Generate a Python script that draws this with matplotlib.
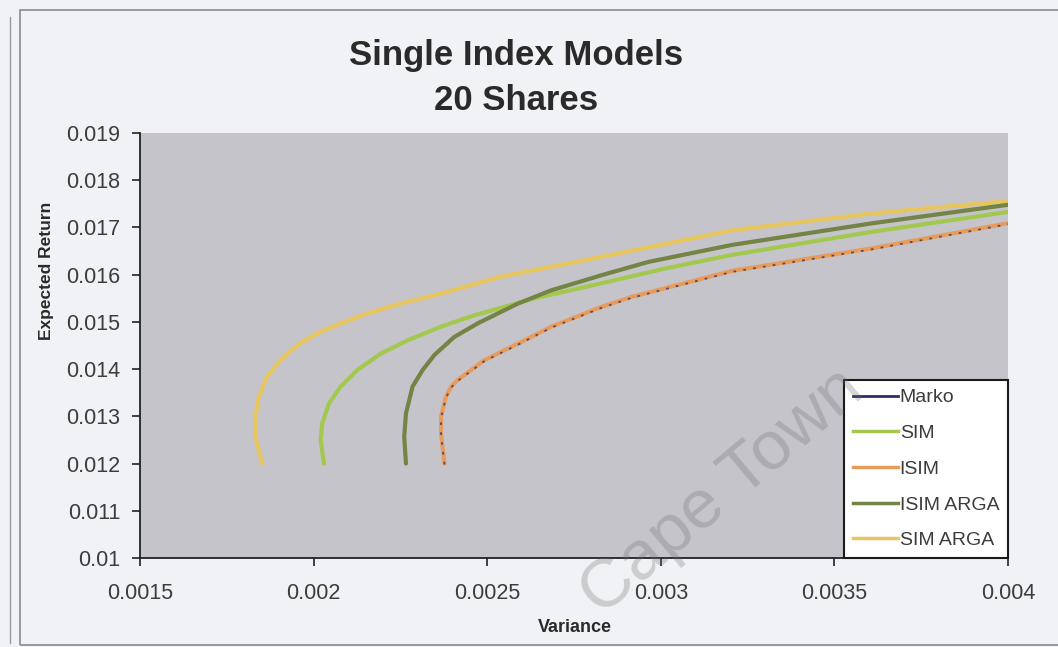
import matplotlib
matplotlib.use("Agg")
import matplotlib.pyplot as plt
from matplotlib.lines import Line2D
from matplotlib.patches import Rectangle

# efficient frontiers: (variance, expected return)
marko_var = [0.002377, 0.002367, 0.002367, 0.002381, 0.002396, 0.002415, 0.002492,
             0.002589, 0.002685, 0.002830, 0.002916, 0.003205, 0.003610, 0.004000]
marko_ret = [0.01198, 0.01262, 0.01297, 0.01339, 0.01361, 0.01375, 0.01417,
             0.01452, 0.01488, 0.01530, 0.01551, 0.01606, 0.01654, 0.01707]

sim_var = [0.002030, 0.002020, 0.002025, 0.002044, 0.002078, 0.002126, 0.002194, 0.002271,
           0.002367, 0.002463, 0.002637, 0.002830, 0.003012, 0.003205, 0.003610, 0.004000]
sim_ret = [0.01200, 0.01250, 0.01285, 0.01327, 0.01363, 0.01398, 0.01433, 0.01461,
           0.01490, 0.01514, 0.01550, 0.01582, 0.01613, 0.01642, 0.01691, 0.01733]

isim_var = [0.002377, 0.002367, 0.002367, 0.002381, 0.002396, 0.002415, 0.002492,
            0.002589, 0.002685, 0.002830, 0.002916, 0.003205, 0.003610, 0.004000]
isim_ret = [0.01200, 0.01264, 0.01299, 0.01341, 0.01363, 0.01377, 0.01419,
            0.01454, 0.01490, 0.01532, 0.01553, 0.01608, 0.01656, 0.01709]

isim_arga_var = [0.002266, 0.002261, 0.002266, 0.002285, 0.002314, 0.002348, 0.002405, 0.002473,
                 0.002589, 0.002685, 0.002830, 0.002964, 0.003205, 0.003610, 0.004000]
isim_arga_ret = [0.01200, 0.01257, 0.01306, 0.01363, 0.01398, 0.01430, 0.01468, 0.01497,
                 0.01539, 0.01567, 0.01599, 0.01627, 0.01663, 0.01709, 0.01748]

sim_arga_var = [0.001852, 0.001832, 0.001832, 0.001842, 0.001866, 0.001905, 0.001953, 0.002011,
                0.002078, 0.002155, 0.002251, 0.002367, 0.002540, 0.002830, 0.003205, 0.003610,
                0.004000]
sim_arga_ret = [0.01200, 0.01257, 0.01299, 0.01341, 0.01384, 0.01419, 0.01451, 0.01476,
                0.01497, 0.01518, 0.01539, 0.01560, 0.01596, 0.01638, 0.01694, 0.01730,
                0.01756]

series_names = ["Marko", "SIM", "ISIM", "ISIM ARGA", "SIM ARGA"]
x_ticks = [0.0015, 0.002, 0.0025, 0.003, 0.0035, 0.004]
x_labels = ["0.0015", "0.002", "0.0025", "0.003", "0.0035", "0.004"]
y_ticks = [0.01, 0.011, 0.012, 0.013, 0.014, 0.015, 0.016, 0.017, 0.018, 0.019]
y_labels = ["0.01", "0.011", "0.012", "0.013", "0.014", "0.015", "0.016", "0.017", "0.018", "0.019"]

c_marko = "#27306b"
c_sim = "#a3c84e"
c_isim = "#e89c5c"
c_isim_arga = "#748444"
c_sim_arga = "#e8c65e"

plt.rcParams["font.family"] = ["Liberation Sans", "DejaVu Sans"]

fig = plt.figure(figsize=(10.58, 6.47), dpi=100, facecolor="#f1f2f5")
ax = fig.add_axes([0.1323, 0.1376, 0.8205, 0.6568])
ax.set_facecolor("#c6c4cb")

# chart border, like the Excel chart frame
fig.patches.append(Rectangle((20 / 1058, 2 / 647), 1.1, 635 / 647, transform=fig.transFigure,
                             fill=False, edgecolor="#8a8a8a", lw=1.2, zorder=0))
fig.add_artist(Line2D([10 / 1058, 10 / 1058], [4 / 647, 630 / 647], transform=fig.transFigure,
                      color="#9a9a9a", lw=1.0))

line_kw = dict(lw=3, solid_capstyle="round", solid_joinstyle="round")
ax.plot(sim_var, sim_ret, color=c_sim, zorder=3, **line_kw)
ax.plot(isim_var, isim_ret, color=c_isim, zorder=3, **line_kw)
ax.plot(isim_arga_var, isim_arga_ret, color=c_isim_arga, zorder=4, **line_kw)
ax.plot(sim_arga_var, sim_arga_ret, color=c_sim_arga, zorder=3, **line_kw)
# Markowitz frontier only shows through as dark specks on the ISIM line
ax.plot(marko_var, marko_ret, color=c_marko, lw=1.3, ls=(0, (1.5, 4)), alpha=0.75, zorder=5)

ax.set_xlim(0.0015, 0.004)
ax.set_ylim(0.01, 0.019)
ax.set_xticks(x_ticks)
ax.set_xticklabels(x_labels)
ax.set_yticks(y_ticks)
ax.set_yticklabels(y_labels)
ax.tick_params(axis="both", direction="out", length=6, width=1.2, color="#222222",
               labelsize=15.5, labelcolor="#3c3c3c")
ax.tick_params(axis="x", pad=12)
ax.tick_params(axis="y", pad=8)
for side in ["top", "right"]:
    ax.spines[side].set_visible(False)
for side in ["left", "bottom"]:
    ax.spines[side].set_color("#222222")
    ax.spines[side].set_linewidth(1.3)

handles = [
    Line2D([], [], color=c_marko, lw=2),
    Line2D([], [], color=c_sim, lw=2.5),
    Line2D([], [], color=c_isim, lw=2.5),
    Line2D([], [], color=c_isim_arga, lw=2.5),
    Line2D([], [], color=c_sim_arga, lw=2.5),
]
leg = ax.legend(handles, series_names, loc="lower right", bbox_to_anchor=(1.0, 0.0),
                borderaxespad=0, fontsize=14, handlelength=2.3, handletextpad=0.1,
                labelspacing=0.93, borderpad=0.45, fancybox=False, framealpha=1,
                facecolor="white", edgecolor="#1a1a1a")
leg.get_frame().set_linewidth(1.5)
leg.set_zorder(10)
for t in leg.get_texts():
    t.set_color("#3c3c3c")

fig.text(516 / 1058, 1 - 55 / 647, "Single Index Models", ha="center", va="center",
         fontsize=25, fontweight="bold", color="#2a2a2a")
fig.text(516 / 1058, 1 - 101 / 647, "20 Shares", ha="center", va="center",
         fontsize=25, fontweight="bold", color="#2a2a2a")
fig.text(47 / 1058, 1 - 271 / 647, "Expected Return", ha="center", va="center",
         rotation=90, fontsize=12.5, fontweight="bold", color="#2a2a2a")
fig.text(575 / 1058, 1 - 628 / 647, "Variance", ha="center", va="center",
         fontsize=13, fontweight="bold", color="#2a2a2a")

# scan watermark
fig.text(722 / 1058, 1 - 492 / 647, "Cape Town", ha="center", va="center", rotation=40,
         fontsize=50, color="#6a6a6a", alpha=0.28, zorder=20)

fig.savefig("out.png", dpi=100, facecolor=fig.get_facecolor())
